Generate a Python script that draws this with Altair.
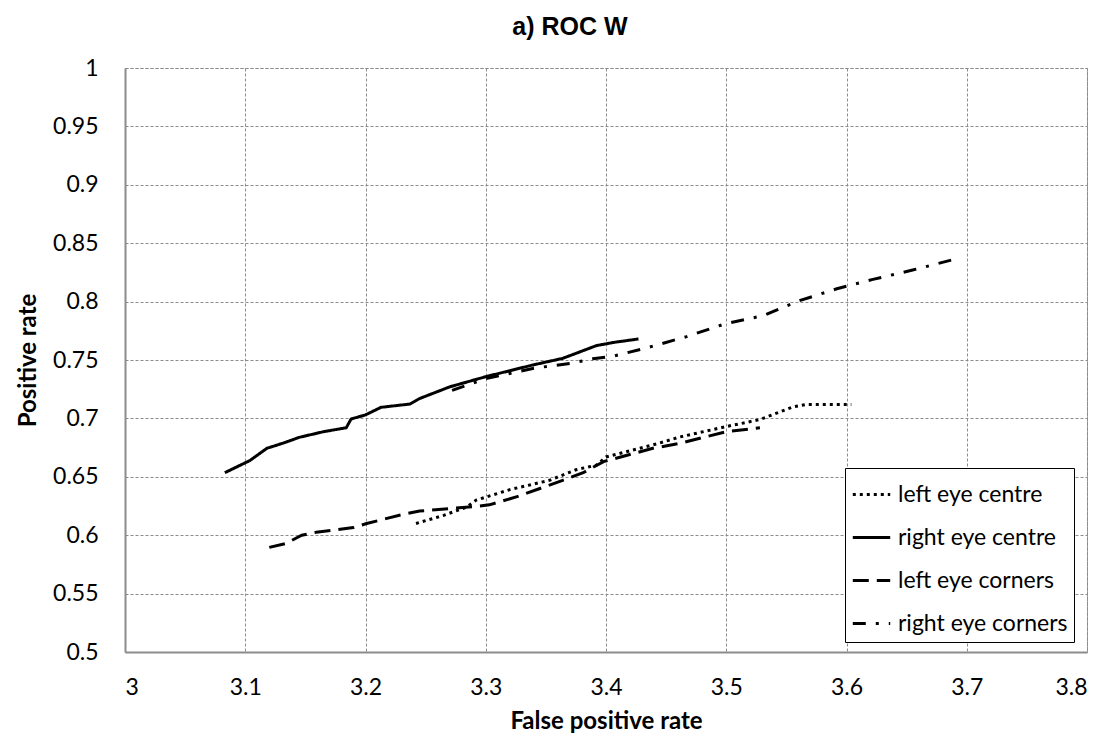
import altair as alt
import pandas as pd

series_names = ["left eye centre", "right eye centre", "left eye corners", "right eye corners"]

lec_x = [3.242, 3.265, 3.284, 3.292, 3.320, 3.353, 3.375, 3.392, 3.400, 3.445, 3.461, 3.500, 3.528, 3.556, 3.567, 3.604]
lec_y = [0.610, 0.617, 0.624, 0.630, 0.639, 0.647, 0.656, 0.660, 0.667, 0.679, 0.684, 0.693, 0.699, 0.710, 0.712, 0.712]

rec_x = [3.083, 3.104, 3.118, 3.132, 3.145, 3.165, 3.184, 3.188, 3.200, 3.213, 3.237, 3.245, 3.270, 3.300, 3.339, 3.364, 3.392, 3.406, 3.427]
rec_y = [0.6535, 0.664, 0.6744, 0.679, 0.6838, 0.6886, 0.692, 0.6995, 0.703, 0.7095, 0.7123, 0.717, 0.727, 0.7357, 0.7457, 0.7514, 0.7623, 0.765, 0.768]

lco_x = [3.120, 3.134, 3.147, 3.159, 3.190, 3.201, 3.229, 3.245, 3.273, 3.290, 3.303, 3.326, 3.345, 3.364, 3.381, 3.398, 3.439, 3.461, 3.500, 3.528]
lco_y = [0.5896, 0.593, 0.600, 0.6025, 0.6065, 0.610, 0.6173, 0.6207, 0.623, 0.6244, 0.626, 0.633, 0.640, 0.647, 0.6535, 0.663, 0.6744, 0.6786, 0.6886, 0.692]

rco_x = [3.272, 3.300, 3.340, 3.370, 3.389, 3.405, 3.436, 3.467, 3.499, 3.531, 3.560, 3.592, 3.622, 3.655, 3.689]
rco_y = [0.724, 0.734, 0.743, 0.747, 0.751, 0.753, 0.761, 0.770, 0.781, 0.788, 0.8005, 0.811, 0.819, 0.827, 0.836]

x_ticks = [3.0, 3.1, 3.2, 3.3, 3.4, 3.5, 3.6, 3.7, 3.8]
y_ticks = [0.5, 0.55, 0.6, 0.65, 0.7, 0.75, 0.8, 0.85, 0.9, 0.95, 1.0]

rows = []
for name, xs, ys in zip(series_names, [lec_x, rec_x, lco_x, rco_x], [lec_y, rec_y, lco_y, rco_y]):
    for i, (xv, yv) in enumerate(zip(xs, ys)):
        rows.append({"series": name, "x": xv, "y": yv, "order": i})
df = pd.DataFrame(rows)

label_font = "Lato"
grid_color = "#8c8c8c"

chart = alt.Chart(df).mark_line(color="black", strokeWidth=3).encode(
    x=alt.X("x:Q",
            scale=alt.Scale(domain=[3.0, 3.8], nice=False, zero=False),
            axis=alt.Axis(title="False positive rate", values=x_ticks, format="~g",
                          grid=True, gridColor=grid_color, gridDash=[3, 2], gridWidth=1,
                          domainColor=grid_color, domainWidth=2, ticks=False,
                          labelFont=label_font, labelFontSize=23, labelColor="black",
                          labelPadding=24, titleFont=label_font, titleFontSize=24,
                          titleFontWeight="bold", titleColor="black", titlePadding=10)),
    y=alt.Y("y:Q",
            scale=alt.Scale(domain=[0.5, 1.0], nice=False, zero=False),
            axis=alt.Axis(title="Positive rate", values=y_ticks, format="~g",
                          grid=True, gridColor=grid_color, gridDash=[3, 2], gridWidth=1,
                          domainColor=grid_color, domainWidth=2, ticks=False,
                          labelFont=label_font, labelFontSize=23, labelColor="black",
                          labelPadding=27, titleFont=label_font, titleFontSize=24,
                          titleFontWeight="bold", titleColor="black", titlePadding=12)),
    strokeDash=alt.StrokeDash("series:N",
                              scale=alt.Scale(domain=series_names,
                                              range=[[3, 4], [1, 0], [16, 8], [13, 10, 3, 10]]),
                              legend=alt.Legend(title=None, orient="none", legendX=720, legendY=400,
                                                symbolType="stroke", symbolSize=1400,
                                                symbolStrokeWidth=3, symbolStrokeColor="black",
                                                labelFont=label_font, labelFontSize=23,
                                                labelColor="black", labelOffset=6,
                                                rowPadding=10, padding=6,
                                                strokeColor="black", fillColor="white",
                                                labelLimit=300)),
    order="order:Q",
).properties(
    width=962, height=584,
    title=alt.TitleParams("a) ROC W", font="Liberation Sans", fontSize=25,
                          fontWeight="bold", color="black", offset=17, dx=-36),
    autosize=alt.AutoSizeParams(type="none"),
    padding={"left": 117, "top": 60, "right": 15, "bottom": 86},
).configure_view(stroke=grid_color, strokeWidth=1, strokeDash=[3, 2])

chart.save("out.html", embed_options={"renderer": "svg", "actions": False})
